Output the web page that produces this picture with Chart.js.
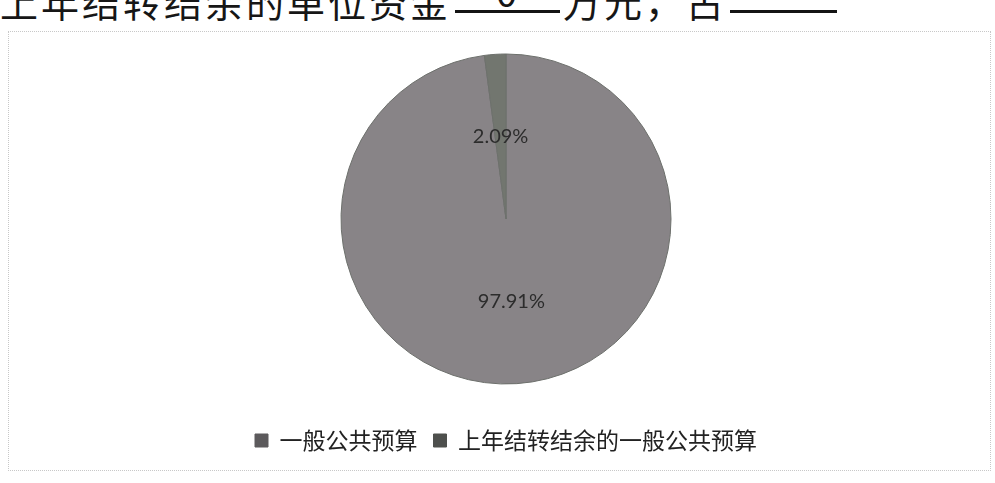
<!doctype html>
<html>

<head>
	<meta charset="utf-8">
	<title>Pie Chart</title>
	<script src="https://cdn.jsdelivr.net/npm/chart.js@4.4.1/dist/chart.umd.min.js"></script>
	<style>
		body {
			margin: 0;
			width: 995px;
			height: 483px;
			background: #fff;
			overflow: hidden;
			position: relative;
			font-family: "Noto Sans CJK SC", sans-serif;
		}
		.doc {
			position: absolute;
			top: -27px;
			font-size: 38px;
			letter-spacing: 3px;
			color: #161616;
			white-space: nowrap;
		}
		.rule {
			position: absolute;
			top: 10px;
			height: 3px;
			background: #141414;
		}
		#frame {
			position: absolute;
			left: 8px;
			top: 31px;
			width: 981px;
			height: 438px;
			border: 1px dotted #c8c8c8;
		}
		#canvas-holder {
			position: absolute;
			left: 8px;
			top: 25px;
			width: 982px;
			height: 445px;
		}
	</style>
</head>

<body>
	<div class="doc" style="left:0">上年结转结余的单位资金</div>
	<div class="doc" style="left:496px;top:-37px">0</div>
	<div class="doc" style="left:563px">万元，占</div>
	<div class="rule" style="left:455px;width:105px"></div>
	<div class="rule" style="left:730px;width:107px"></div>
	<div id="frame"></div>
	<div id="canvas-holder">
		<canvas id="chart-area"></canvas>
	</div>
	<script>
		var labels = ['一般公共预算', '上年结转结余的一般公共预算'];
		var shares = [97.91, 2.09];
		var sliceColors = ['#888487', '#72766f'];
		var legendColors = ['#5c5a5c', '#4e504d'];

		// draws the percentage text in the middle of each slice
		var sliceLabels = {
			id: 'sliceLabels',
			afterDatasetsDraw: function (chart) {
				var ctx = chart.ctx;
				var meta = chart.getDatasetMeta(0);
				ctx.save();
				ctx.font = '20px Lato, "Liberation Sans", sans-serif';
				ctx.fillStyle = '#2c2c2c';
				ctx.textAlign = 'center';
				ctx.textBaseline = 'middle';
				meta.data.forEach(function (arc, i) {
					var p = arc.tooltipPosition();
					ctx.fillText(shares[i].toFixed(2) + '%', p.x, p.y);
				});
				ctx.restore();
			}
		};

		var config = {
			type: 'pie',
			data: {
				labels: labels,
				datasets: [{
					data: shares,
					backgroundColor: sliceColors,
					borderWidth: 1,
					borderColor: '#6d706c',
					radius: 165
				}]
			},
			options: {
				responsive: true,
				maintainAspectRatio: false,
				animation: false,
				layout: {
					padding: { top: 0, bottom: 8, left: 14 }
				},
				plugins: {
					legend: {
						position: 'bottom',
						labels: {
							boxWidth: 13,
							boxHeight: 13,
							padding: 16,
							color: '#222',
							font: { size: 23, family: '"Noto Sans CJK SC", sans-serif' },
							generateLabels: function (chart) {
								var items = Chart.overrides.pie.plugins.legend.labels.generateLabels(chart);
								items.forEach(function (item, i) {
									item.fillStyle = legendColors[i];
									item.strokeStyle = legendColors[i];
								});
								return items;
							}
						}
					},
					tooltip: { enabled: false }
				}
			},
			plugins: [sliceLabels]
		};

		window.onload = function () {
			var ctx = document.getElementById('chart-area').getContext('2d');
			window.myPie = new Chart(ctx, config);
		};
	</script>
</body>

</html>
